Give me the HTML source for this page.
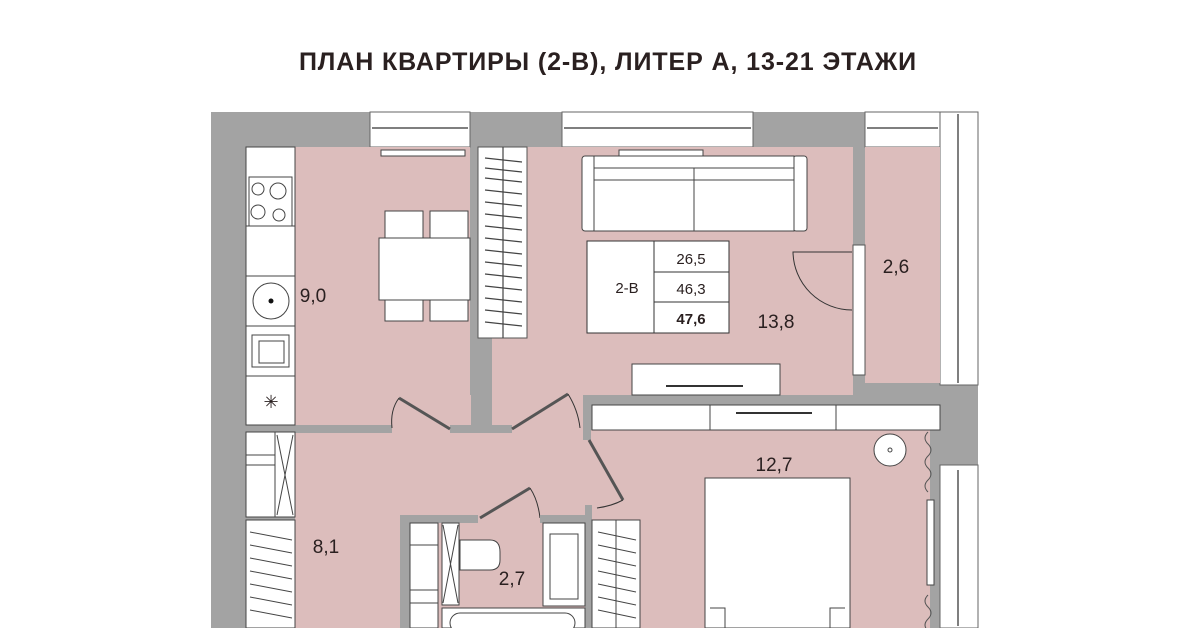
<!DOCTYPE html>
<html><head><meta charset="utf-8"><style>
html,body{margin:0;padding:0;background:#fff;width:1200px;height:628px;overflow:hidden}
svg{display:block}
text{font-family:"Liberation Sans",sans-serif;fill:#2a2020}
</style></head><body>
<svg width="1200" height="628" viewBox="0 0 1200 628" xmlns="http://www.w3.org/2000/svg">
<text x="608" y="70" text-anchor="middle" font-size="25" font-weight="bold" fill="#222" letter-spacing="0.9">ПЛАН КВАРТИРЫ (2-В), ЛИТЕР А, 13-21 ЭТАЖИ</text>
<rect x="211" y="112" width="767" height="516" fill="#a3a3a3"/>
<g fill="#fff" stroke="#666" stroke-width="1">
<rect x="370" y="112" width="100" height="35"/>
<rect x="562" y="112" width="191" height="35"/>
<rect x="865" y="112" width="75" height="35"/>
<rect x="940" y="112" width="38" height="273"/>
<rect x="940" y="465" width="38" height="163"/>
</g>
<g stroke="#555" stroke-width="1.5">
<line x1="372" y1="128" x2="468" y2="128"/><line x1="564" y1="128" x2="751" y2="128"/><line x1="867" y1="128" x2="938" y2="128"/>
<line x1="958" y1="114" x2="958" y2="383"/><line x1="958" y1="470" x2="958" y2="626"/>
</g>
<g fill="#dcbdbc">
<rect x="295" y="147" width="175" height="278"/>
<rect x="490" y="147" width="363" height="248"/>
<rect x="865" y="147" width="75" height="236"/>
<rect x="295" y="395" width="290" height="233"/>
<rect x="585" y="430" width="345" height="198"/>
</g>
<g fill="#a3a3a3">
<rect x="295" y="425" width="97" height="8"/>
<rect x="450" y="425" width="62" height="8"/>
<rect x="471" y="338" width="21" height="90"/>
<rect x="583" y="395" width="8" height="45"/>
</g>
<g fill="#fff" stroke="#444" stroke-width="1">
<rect x="246" y="147" width="49" height="278"/>
<rect x="249" y="177" width="43" height="49"/>
<line x1="246" y1="226" x2="295" y2="226"/><line x1="246" y1="276" x2="295" y2="276"/><line x1="246" y1="326" x2="295" y2="326"/><line x1="246" y1="376" x2="295" y2="376"/>
<circle cx="258" cy="189" r="6"/><circle cx="278" cy="191" r="8"/><circle cx="258" cy="212" r="7"/><circle cx="279" cy="215" r="6"/>
<circle cx="271" cy="301" r="18"/>
<rect x="252" y="335" width="37" height="32"/><rect x="259" y="341" width="25" height="22"/>
</g>
<circle cx="271" cy="301" r="2.5" fill="#111"/>
<text x="271" y="408" text-anchor="middle" font-size="18" fill="#444">✳</text>
<g fill="#fff" stroke="#444" stroke-width="1">
<rect x="385" y="211" width="38" height="28"/><rect x="430" y="211" width="38" height="28"/>
<rect x="385" y="295" width="38" height="26"/><rect x="430" y="295" width="38" height="26"/>
<rect x="379" y="238" width="91" height="62"/>
</g>
<rect x="478" y="147" width="49" height="191" fill="#fff" stroke="#555"/>
<g stroke="#444" stroke-width="1.2">
<line x1="503" y1="147" x2="503" y2="338"/>
<path d="M485 158L522 162M485 168L522 172M485 178L522 182M485 190L522 194M485 202L522 206M485 214L522 218M485 226L522 230M485 238L522 242M485 250L522 254M485 262L522 266M485 274L522 278M485 286L522 290M485 298L522 302M485 310L522 314M485 322L522 326"/>
</g>
<rect x="381" y="150" width="84" height="6" fill="#fff" stroke="#444"/>
<rect x="619" y="150" width="84" height="6" fill="#fff" stroke="#444"/>
<g fill="#fff" stroke="#444" stroke-width="1">
<rect x="582" y="156" width="14" height="75" rx="3"/><rect x="793" y="156" width="14" height="75" rx="3"/>
<rect x="594" y="156" width="200" height="75"/>
<line x1="594" y1="168" x2="794" y2="168"/><line x1="594" y1="180" x2="794" y2="180"/><line x1="694" y1="168" x2="694" y2="231"/>
</g>
<g fill="#fff" stroke="#333" stroke-width="1">
<rect x="587" y="241" width="142" height="92"/>
<line x1="654" y1="241" x2="654" y2="333"/><line x1="654" y1="272" x2="729" y2="272"/><line x1="654" y1="302" x2="729" y2="302"/>
</g>
<text x="627" y="293" text-anchor="middle" font-size="15">2-В</text>
<text x="691" y="264" text-anchor="middle" font-size="15">26,5</text>
<text x="691" y="294" text-anchor="middle" font-size="15">46,3</text>
<text x="691" y="324" text-anchor="middle" font-size="15" font-weight="bold">47,6</text>
<text x="776" y="328" text-anchor="middle" font-size="19">13,8</text>
<text x="896" y="273" text-anchor="middle" font-size="19">2,6</text>
<text x="313" y="302" text-anchor="middle" font-size="19">9,0</text>
<text x="326" y="553" text-anchor="middle" font-size="19">8,1</text>
<text x="512" y="585" text-anchor="middle" font-size="19">2,7</text>
<text x="774" y="471" text-anchor="middle" font-size="19">12,7</text>
<rect x="853" y="245" width="12" height="130" fill="#fff" stroke="#555"/>
<path d="M852 252 L793 252 A59 59 0 0 0 852 310" fill="none" stroke="#333"/>
<rect x="632" y="364" width="148" height="31" fill="#fff" stroke="#444"/>
<line x1="666" y1="386" x2="743" y2="386" stroke="#333" stroke-width="2"/>
<rect x="592" y="405" width="348" height="25" fill="#fff" stroke="#444"/>
<line x1="710" y1="405" x2="710" y2="430" stroke="#444"/><line x1="836" y1="405" x2="836" y2="430" stroke="#444"/>
<line x1="736" y1="413" x2="812" y2="413" stroke="#333" stroke-width="2"/>
<g fill="#fff" stroke="#444">
<rect x="246" y="432" width="49" height="85"/><line x1="275" y1="432" x2="275" y2="517"/><line x1="246" y1="455" x2="275" y2="455"/><line x1="246" y1="465" x2="275" y2="465"/>
<rect x="246" y="520" width="49" height="108"/>
</g>
<g stroke="#444"><line x1="277" y1="435" x2="293" y2="515"/><line x1="293" y1="435" x2="277" y2="515"/>
<path d="M250 532L292 540M250 545L292 553M250 558L292 566M250 571L292 579M250 584L292 592M250 597L292 605M250 610L292 618"/></g>
<g fill="none" stroke="#555" stroke-width="3">
<line x1="450" y1="429" x2="399" y2="398"/><line x1="512" y1="429" x2="568" y2="394"/><line x1="589" y1="440" x2="623" y2="500"/><line x1="480" y1="518" x2="530" y2="488"/>
</g>
<g fill="none" stroke="#333" stroke-width="1">
<path d="M399 398 Q390 410 392 428"/><path d="M568 394 Q578 410 580 428"/><path d="M623 500 Q612 506 597 508"/><path d="M530 488 Q538 500 540 518"/>
</g>
<g fill="#a3a3a3">
<rect x="400" y="515" width="10" height="113"/>
<rect x="400" y="515" width="78" height="8"/>
<rect x="540" y="515" width="50" height="8"/>
<rect x="585" y="505" width="7" height="123"/>
</g>
<g fill="#fff" stroke="#444">
<rect x="410" y="523" width="28" height="105"/><line x1="410" y1="545" x2="438" y2="545"/><line x1="410" y1="590" x2="438" y2="590"/><line x1="410" y1="603" x2="438" y2="603"/>
<rect x="442" y="523" width="17" height="82"/>
<path d="M460 540 H490 Q500 540 500 552 V560 Q500 570 490 570 H460 Z"/>
<rect x="543" y="523" width="42" height="83"/><rect x="550" y="534" width="28" height="65"/>
<rect x="442" y="608" width="143" height="20"/><rect x="450" y="613" width="125" height="20" rx="10"/>
</g>
<g stroke="#444"><line x1="443" y1="525" x2="458" y2="603"/><line x1="458" y1="525" x2="443" y2="603"/></g>
<rect x="592" y="520" width="48" height="108" fill="#fff" stroke="#444"/>
<g stroke="#444"><line x1="616" y1="520" x2="616" y2="628"/><path d="M598 532L636 540M598 545L636 553M598 558L636 566M598 571L636 579M598 584L636 592M598 597L636 605M598 610L636 618"/></g>
<rect x="705" y="478" width="145" height="150" fill="#fff" stroke="#444"/>
<path d="M710 608 L725 608 L725 628 M845 608 L830 608 L830 628" fill="none" stroke="#444"/>
<circle cx="890" cy="450" r="16" fill="#fff" stroke="#444"/><circle cx="890" cy="450" r="2" fill="none" stroke="#444"/>
<path d="M928 432 q-6 6 0 12 q6 6 0 12 q-6 6 0 12 q6 6 0 12 q-6 6 0 12" fill="none" stroke="#555"/>
<rect x="927" y="500" width="7" height="85" fill="#fff" stroke="#444"/>
<path d="M928 595 q-6 6 0 12 q6 6 0 12 q-6 6 0 12" fill="none" stroke="#555"/>
</svg>
</body></html>
